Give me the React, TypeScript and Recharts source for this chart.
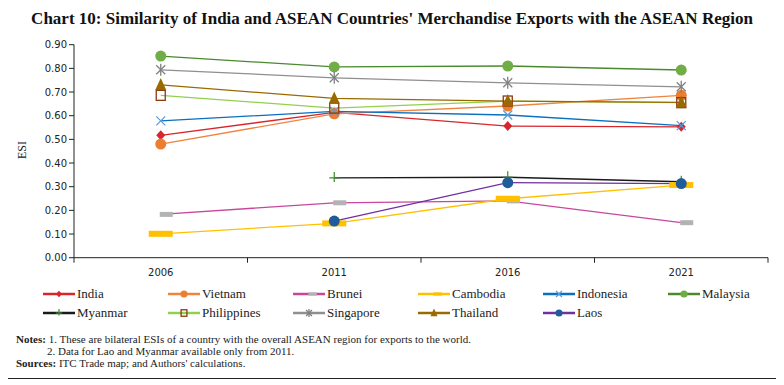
import React from 'react';
import { LineChart, Line, XAxis, YAxis } from 'recharts';

const years = ['2006', '2011', '2016', '2021'];
const india = [0.517, 0.614, 0.556, 0.553];
const vietnam = [0.48, 0.608, 0.641, 0.686];
const brunei = [0.183, 0.232, 0.24, 0.148];
const cambodia = [0.101, 0.145, 0.249, 0.307];
const indonesia = [0.578, 0.618, 0.603, 0.558];
const malaysia = [0.852, 0.806, 0.81, 0.793];
const myanmar = [null, 0.337, 0.34, 0.321];
const philippines = [0.686, 0.632, 0.662, 0.655];
const singapore = [0.794, 0.76, 0.739, 0.722];
const thailand = [0.73, 0.673, 0.662, 0.656];
const laos = [null, 0.155, 0.317, 0.313];
const yTicks = [0, 0.1, 0.2, 0.3, 0.4, 0.5, 0.6, 0.7, 0.8, 0.9];

const data = years.map((y, i) => ({
  year: y,
  India: india[i],
  Vietnam: vietnam[i],
  Brunei: brunei[i],
  Cambodia: cambodia[i],
  Indonesia: indonesia[i],
  Malaysia: malaysia[i],
  Myanmar: myanmar[i],
  Philippines: philippines[i],
  Singapore: singapore[i],
  Thailand: thailand[i],
  Laos: laos[i],
}));

type Shape = 'diamond' | 'circle' | 'rectR' | 'rectW' | 'x' | 'plus' | 'square' | 'star' | 'triangle';

const series: { key: string; line: string; marker: string; shape: Shape }[] = [
  { key: 'India', line: '#D9262B', marker: '#D9262B', shape: 'diamond' },
  { key: 'Vietnam', line: '#F0843F', marker: '#ED7D31', shape: 'circle' },
  { key: 'Brunei', line: '#C8479C', marker: '#B3B3B3', shape: 'rectR' },
  { key: 'Cambodia', line: '#FFC000', marker: '#FFC000', shape: 'rectW' },
  { key: 'Indonesia', line: '#0A6FBF', marker: '#5B9BD5', shape: 'x' },
  { key: 'Malaysia', line: '#4A8A2C', marker: '#70AD47', shape: 'circle' },
  { key: 'Myanmar', line: '#1A1A1A', marker: '#3A8A2A', shape: 'plus' },
  { key: 'Philippines', line: '#92D050', marker: '#8B3A10', shape: 'square' },
  { key: 'Singapore', line: '#8F8F8F', marker: '#7F7F7F', shape: 'star' },
  { key: 'Thailand', line: '#9A6A00', marker: '#9A6A00', shape: 'triangle' },
  { key: 'Laos', line: '#7030A0', marker: '#1F5C99', shape: 'circle' },
];

function Marker({ cx, cy, shape, color, size = 1 }: { cx: number; cy: number; shape: Shape; color: string; size?: number }) {
  const s = size;
  switch (shape) {
    case 'diamond':
      return <polygon points={`${cx},${cy - 5 * s} ${cx + 4.5 * s},${cy} ${cx},${cy + 5 * s} ${cx - 4.5 * s},${cy}`} fill={color} />;
    case 'circle':
      return <circle cx={cx} cy={cy} r={5.5 * s} fill={color} />;
    case 'rectR':
      return <rect x={cx - 1 * s} y={cy - 2.5 * s} width={13 * s} height={5 * s} fill={color} />;
    case 'rectW':
      return <rect x={cx - 12 * s} y={cy - 3 * s} width={24 * s} height={6 * s} fill={color} />;
    case 'x':
      return (
        <g stroke={color} strokeWidth={1.3}>
          <line x1={cx - 4.5 * s} y1={cy - 4.5 * s} x2={cx + 4.5 * s} y2={cy + 4.5 * s} />
          <line x1={cx - 4.5 * s} y1={cy + 4.5 * s} x2={cx + 4.5 * s} y2={cy - 4.5 * s} />
        </g>
      );
    case 'plus':
      return (
        <g stroke={color} strokeWidth={1.2}>
          <line x1={cx} y1={cy - 6 * s} x2={cx} y2={cy + 4 * s} />
          <line x1={cx - 5 * s} y1={cy} x2={cx + 5 * s} y2={cy} />
        </g>
      );
    case 'square':
      return <rect x={cx - 4.5 * s} y={cy - 5 * s} width={9 * s} height={10 * s} fill="none" stroke={color} strokeWidth={1.3} />;
    case 'star':
      return (
        <g stroke={color} strokeWidth={1.3}>
          <line x1={cx - 4.5 * s} y1={cy - 4.5 * s} x2={cx + 4.5 * s} y2={cy + 4.5 * s} />
          <line x1={cx - 4.5 * s} y1={cy + 4.5 * s} x2={cx + 4.5 * s} y2={cy - 4.5 * s} />
          <line x1={cx} y1={cy - 6 * s} x2={cx} y2={cy + 6 * s} />
        </g>
      );
    case 'triangle':
      return <polygon points={`${cx},${cy - 7 * s} ${cx + 5.5 * s},${cy + 5 * s} ${cx - 5.5 * s},${cy + 5 * s}`} fill={color} />;
  }
  return null;
}

const makeDot = (shape: Shape, color: string) => (props: any) => {
  const { cx, cy, value, index } = props;
  if (value == null || cx == null || cy == null) return <g key={index} />;
  return <Marker key={index} cx={cx} cy={cy} shape={shape} color={color} />;
};

const XTick = (props: any) => {
  const { x, y, payload, index, width, visibleTicksCount } = props;
  const half = width / visibleTicksCount / 2;
  return (
    <g>
      <line x1={x - half} y1={y - 8} x2={x - half} y2={y - 3} stroke="#222" />
      {index === visibleTicksCount - 1 && <line x1={x + half} y1={y - 8} x2={x + half} y2={y - 3} stroke="#222" />}
      <text x={x} y={y + 10} textAnchor="middle" fontFamily="'DejaVu Sans', sans-serif" fontSize={10} fill="#222">
        {payload.value}
      </text>
    </g>
  );
};

const serif = "'Liberation Serif', 'DejaVu Serif', serif";

export default function App() {
  return (
    <div style={{ position: 'relative', width: 784, height: 385, marginLeft: -8, marginTop: -8, background: '#fff', overflow: 'hidden' }}>
      <div style={{ position: 'absolute', left: 5, top: 5, width: 772, height: 372, border: '1.5px solid #222' }} />
      <div style={{ position: 'absolute', left: 0, top: 9, width: 784, textAlign: 'center', fontFamily: serif, fontWeight: 'bold', fontSize: 17, color: '#111' }}>
        Chart 10: Similarity of India and ASEAN Countries' Merchandise Exports with the ASEAN Region
      </div>
      <div style={{ position: 'absolute', left: 0, top: 0 }}>
        <LineChart width={784} height={385} data={data} margin={{ top: 44.7, right: 16, bottom: 97.3, left: 24 }}>
          <XAxis
            dataKey="year"
            scale="band"
            tickLine={false}
            axisLine={{ stroke: '#222' }}
            tick={<XTick />}
            height={30}
            interval={0}
          />
          <YAxis
            domain={[0, 0.9]}
            ticks={yTicks}
            tickFormatter={(v: number) => v.toFixed(2)}
            width={50}
            axisLine={{ stroke: '#222' }}
            tickLine={{ stroke: '#222' }}
            tickSize={5}
            tick={{ fontFamily: "'DejaVu Sans', sans-serif", fontSize: 10, fill: '#222' }}
            interval={0}
            allowDataOverflow
          />
          {series.map((s) => (
            <Line
              key={s.key}
              dataKey={s.key}
              stroke={s.line}
              strokeWidth={1.3}
              dot={makeDot(s.shape, s.marker)}
              activeDot={false}
              isAnimationActive={false}
              connectNulls={false}
            />
          ))}
        </LineChart>
      </div>
      <div style={{ position: 'absolute', left: 22, top: 150, transform: 'translate(-50%,-50%) rotate(-90deg)', fontFamily: serif, fontSize: 12, color: '#222' }}>
        ESI
      </div>
      {series.map((s, i) => {
        const col = i % 6;
        const row = Math.floor(i / 6);
        return (
          <div key={s.key} style={{ position: 'absolute', left: 43 + col * 125, top: 286 + row * 19, height: 16, display: 'flex', alignItems: 'center' }}>
            <svg width={32} height={16}>
              <line x1={0} y1={8} x2={32} y2={8} stroke={s.line} strokeWidth={2.5} />
              <Marker cx={16} cy={8} shape={s.shape === 'rectW' || s.shape === 'rectR' ? 'rectR' : s.shape} color={s.marker} size={0.65} />
            </svg>
            <span style={{ fontFamily: serif, fontSize: 13, color: '#222', marginLeft: 2 }}>{s.key}</span>
          </div>
        );
      })}
      <div style={{ position: 'absolute', left: 16, top: 333, fontFamily: serif, fontSize: 11, color: '#222', lineHeight: '12px' }}>
        <div><b>Notes:</b> 1. These are bilateral ESIs of a country with the overall ASEAN region for exports to the world.</div>
        <div style={{ paddingLeft: 31 }}>2. Data for Lao and Myanmar available only from 2011.</div>
        <div><b>Sources:</b> ITC Trade map; and Authors' calculations.</div>
      </div>
    </div>
  );
}
